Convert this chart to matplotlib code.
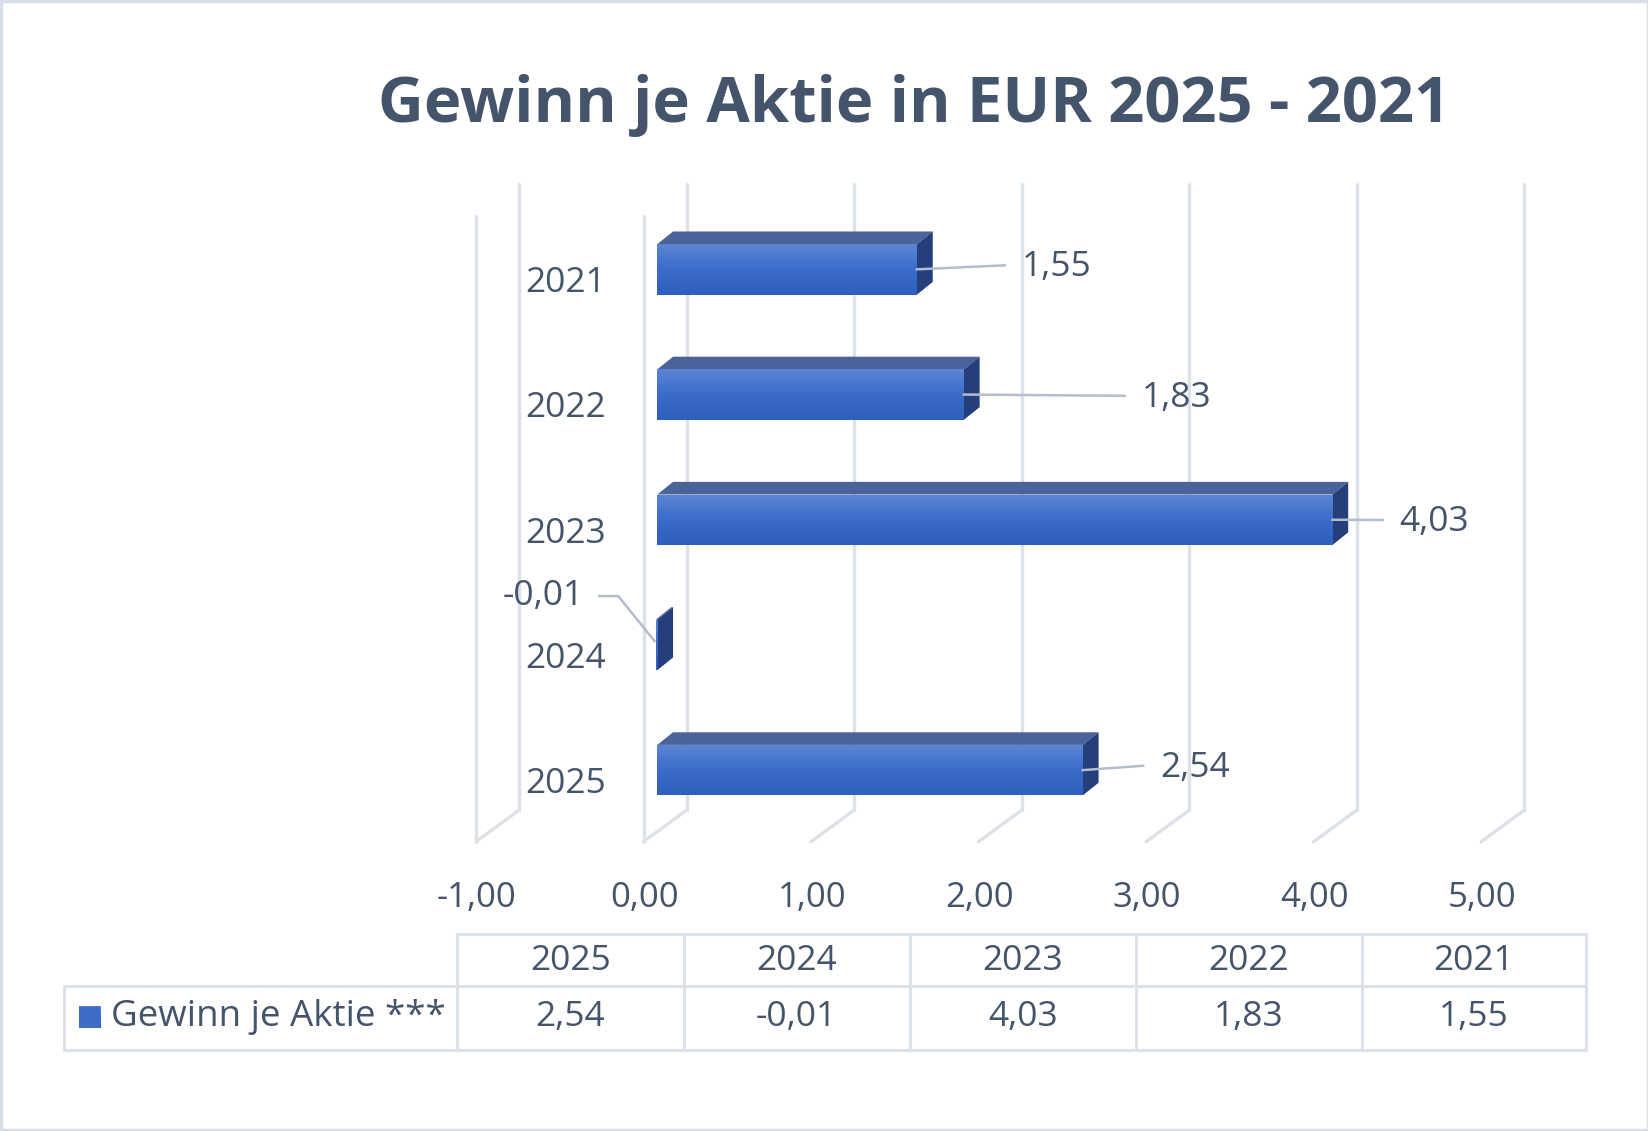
import numpy as np
import matplotlib
matplotlib.use('Agg')
from matplotlib import pyplot as plt
from matplotlib.patches import Polygon, Rectangle

# data
years = ['2025', '2024', '2023', '2022', '2021']
eps = [2.54, -0.01, 4.03, 1.83, 1.55]
eps_text = ['2,54', '-0,01', '4,03', '1,83', '1,55']
x_ticks = [-1, 0, 1, 2, 3, 4, 5]
x_tick_text = ['-1,00', '0,00', '1,00', '2,00', '3,00', '4,00', '5,00']
title = 'Gewinn je Aktie in EUR 2025 - 2021'
series_name = 'Gewinn je Aktie ***'

TXT = '#44546A'
GRID = '#DDE1E8'
LEAD = '#B4BDCB'
plt.rcParams['font.family'] = ['Open Sans', 'DejaVu Sans']

W, H = 1568, 1075
fig = plt.figure(figsize=(16.49, 11.31), dpi=100)

# overlay axes in picture pixel coords (title, table, frame)
ov = fig.add_axes([0, 0, 1, 1])
ov.set_xlim(0, W)
ov.set_ylim(H, 0)
ov.axis('off')

# chart axes: x in EUR, y in category slots
ax = fig.add_axes([0, 0, 1, 1])
ax.patch.set_visible(False)
ax.axis('off')
px_unit, px_cat = 159.3, 119.0
x0px, y0px = 625.0, 256.0
xlim = (-x0px / px_unit, (W - x0px) / px_unit)
ylim = ((H - y0px) / px_cat, -y0px / px_cat)

# depth offsets
bdx, bdy = 15 / px_unit, -12 / px_cat
g_back, g_front = 0.176, -0.082
g_top_back, g_bot_back = -0.681, 4.319
g_top_front, g_bot_front = -0.429, 4.571

for v in x_ticks:
    ax.plot([v + g_back, v + g_back], [g_top_back, g_bot_back], color=GRID, lw=2.4,
            solid_capstyle='round', zorder=1)
    ax.plot([v + g_back, v + g_front], [g_bot_back, g_bot_front], color=GRID, lw=2.4,
            solid_capstyle='round', zorder=1)
    if v <= 0:
        ax.plot([v + g_front, v + g_front], [g_top_front, g_bot_front], color=GRID, lw=2.4,
                solid_capstyle='round', zorder=1)
for v, t in zip(x_ticks, x_tick_text):
    ax.text(v + g_front + 0.005, (854 - y0px) / px_cat, t, ha='center', va='center',
            fontsize=25, color=TXT)

# bars
h = 0.403
grad = np.linspace(0, 1, 64).reshape(-1, 1)
cmap = matplotlib.colors.LinearSegmentedColormap.from_list('b', ['#5C85D4', '#3A6CCB', '#2E5FBD'])
n = len(years)
label_pos = [(3.0, -0.02), (-0.44, -0.39), (4.43, 0.017), (2.89, 0.025), (2.175, -0.017)]
for i, (yr, v, t) in enumerate(zip(years, eps, eps_text)):
    c = n - 1 - i
    bars = ax.barh(c, v, height=h, left=0, color='#3E6DC8', zorder=3)
    rect = bars[0]
    xa, xb = min(0, v), max(0, v)
    top, bot = c - h / 2, c + h / 2
    im = ax.imshow(grad, cmap=cmap, extent=[xa, xb, bot, top], aspect='auto', zorder=3.1,
                   interpolation='bicubic')
    im.set_clip_path(rect)
    ax.add_patch(Polygon([(xa, top), (xb, top), (xb + bdx, top + bdy), (xa + bdx, top + bdy)],
                         closed=True, facecolor='#4A6399', edgecolor='none', zorder=3))
    ax.add_patch(Polygon([(xb, top), (xb + bdx, top + bdy), (xb + bdx, bot + bdy), (xb, bot)],
                         closed=True, facecolor='#243F7B', edgecolor='none', zorder=3))
    # category label
    ax.text(-0.308, c + 0.11, yr, ha='right', va='center', fontsize=25.5, color=TXT)
    # data label + leader
    lx, ly = label_pos[i]
    if v >= 0:
        ax.plot([xb, lx - 0.1], [c, c + ly - 0.015], color=LEAD, lw=1.8, zorder=4)
        ax.text(lx, c + ly, t, ha='left', va='center', fontsize=25.5, color=TXT)
    else:
        ax.plot([lx + 0.094, lx + 0.207, xa - 0.006], [c + ly, c + ly, c + bdy / 2 + 0.02],
                color=LEAD, lw=1.8, zorder=4)
        ax.text(lx, c + ly, t, ha='right', va='center', fontsize=25.5, color=TXT)

ax.set_xlim(*xlim)
ax.set_ylim(*ylim)

# title
ov.text(869, 100, title, ha='center', va='center', fontsize=45.5, fontweight='bold', color=TXT)

# data table
cols = [435, 650, 865, 1080, 1295, 1508]
r0, r1, r2 = 888, 937, 998
tl = dict(color=GRID, lw=2.2, solid_capstyle='round')
ov.plot([cols[0], cols[-1]], [r0, r0], **tl)
ov.plot([61, cols[-1]], [r1, r1], **tl)
ov.plot([61, cols[-1]], [r2, r2], **tl)
for x in cols:
    ov.plot([x, x], [r0, r2], **tl)
ov.plot([61, 61], [r1, r2], **tl)
for j, (yr, t) in enumerate(zip(years, eps_text)):
    cx = (cols[j] + cols[j + 1]) / 2
    ov.text(cx, 913, yr, ha='center', va='center', fontsize=25.5, color=TXT)
    ov.text(cx, 967, t, ha='center', va='center', fontsize=25.5, color=TXT)
sq = Rectangle((75, 957), 20, 20, facecolor='#3E6DC8', edgecolor='none')
ov.add_patch(sq)
ov.imshow(grad, cmap=cmap, extent=[75, 95, 977, 957], aspect='auto', clip_path=sq)
ov.text(106, 967, series_name, ha='left', va='center', fontsize=26.5, color=TXT)
ov.set_xlim(0, W)
ov.set_ylim(H, 0)

# outer frame
ov.add_patch(Rectangle((1, 1), W - 2, H - 2, fill=False, edgecolor='#D9DEE6', lw=2.5))

fig.savefig('out.png', dpi=100)
